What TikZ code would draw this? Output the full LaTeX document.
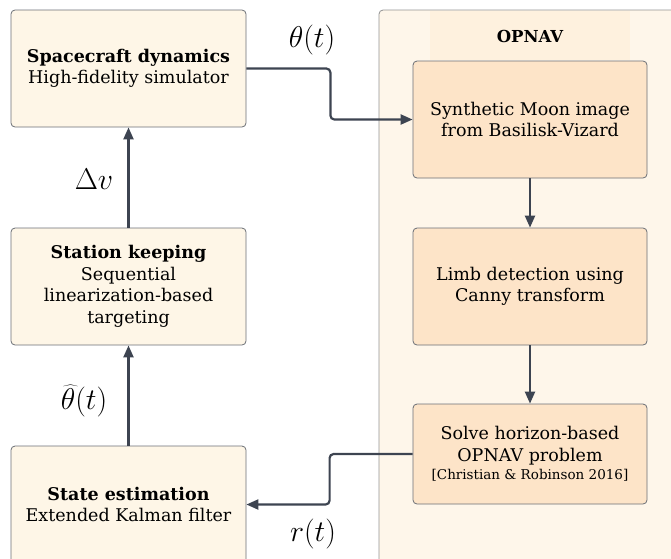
\RequirePackage{fix-cm}
\documentclass[tikz,border=0pt]{standalone}
\usepackage{fontspec}
\setmainfont{DejaVu Serif}
\usetikzlibrary{arrows.meta}
\definecolor{creamfill}{HTML}{FEF6E7}
\definecolor{peachfill}{HTML}{FDE4C8}
\definecolor{groupfill}{HTML}{FEF6EA}
\definecolor{bandfill}{HTML}{FEF1DE}
\definecolor{boxline}{HTML}{6B6F76}
\definecolor{flowcol}{HTML}{3D4451}
\begin{document}
\begin{tikzpicture}[x=1pt,y=-1pt]
      \tikzset{block node/.style={rectangle, rounded corners=4pt, draw=boxline, line width=0.8pt, fill=creamfill,
          minimum width=235pt, minimum height=117pt, inner sep=0pt, align=center,
          font=\fontsize{17.5}{21.5}\selectfont},
        inner node/.style={block node, fill=peachfill, minimum width=234pt},
        flow line/.style={draw=flowcol, line width=2.2pt, rounded corners=4pt, -{Triangle[length=12pt,width=10pt]}},
        math label/.style={font=\fontsize{30}{34}\selectfont}}
      \useasboundingbox (0,0) rectangle (671,558);
      \clip (0,0) rectangle (671,558);
      % opnav group
      \draw[draw=gray!85, line width=0.8pt, fill=groupfill, rounded corners=4pt] (379,10) rectangle (700,600);
      \fill[bandfill] (430,11) rectangle (630,60);
      \node[font=\fontsize{16.5}{20}\selectfont\bfseries] (opnav) at (530,36) {OPNAV};
      % left column
      \node[block node] (dyn) at (128.5,68.5) {\textbf{Spacecraft dynamics}\\High-fidelity simulator};
      \node[block node] (keep) at (128.5,286.5) {\textbf{Station keeping}\\Sequential\\linearization-based\\targeting};
      \node[block node] (est) at (128.5,504.5) {\textbf{State estimation}\\Extended Kalman filter};
      % right column
      \node[inner node] (img) at (530,119.5) {Synthetic Moon image\\from Basilisk-Vizard};
      \node[inner node] (limb) at (530,286.5) {Limb detection using\\Canny transform};
      \node[inner node, minimum height=100pt] (solve) at (530,454) {Solve horizon-based\\OPNAV problem\\[-3pt]{\fontsize{13.5}{16}\selectfont [Christian \& Robinson 2016]}};
      % connectors
      \draw[flow line] (dyn.east) -- ++(84,0) |- (img.west);
      \draw[flow line] (img.south) -- (limb.north);
      \draw[flow line] (limb.south) -- (solve.north);
      \draw[flow line] (solve.west) -- ++(-83,0) |- (est.east);
      \draw[flow line] (est.north) -- (keep.south);
      \draw[flow line] (keep.north) -- (dyn.south);
      % labels
      \node[math label] (theta) at (312,40) {$\theta(t)$};
      \node[math label] (dv) at (94,179) {$\Delta v$};
      \node[math label] (thetahat) at (84,401) {$\widehat{\theta}(t)$};
      \node[math label] (rt) at (313,534) {$r(t)$};
    \end{tikzpicture}
\end{document}
